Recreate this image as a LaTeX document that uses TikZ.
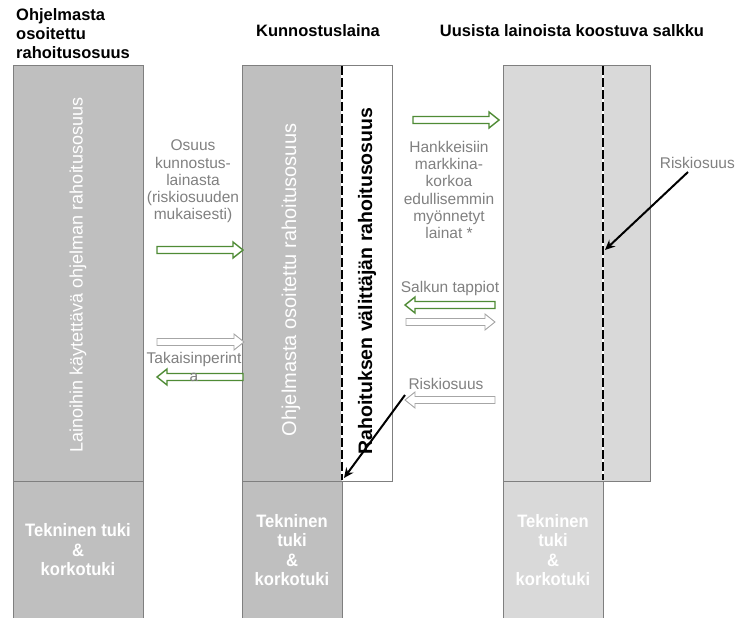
\documentclass[tikz,border=0pt]{standalone}
\usepackage{fontspec}
\setmainfont{Liberation Sans}
\newfontfamily\narrowfont{Liberation Sans}[FakeStretch=0.92]
\usetikzlibrary{arrows.meta}
\definecolor{darkbox}{HTML}{BFBFBF}
\definecolor{lightbox}{HTML}{D9D9D9}
\definecolor{edgegray}{HTML}{7F7F7F}
\definecolor{graytxt}{HTML}{808080}
\definecolor{arrgreen}{HTML}{4F8B35}
\definecolor{arrgray}{HTML}{A6A6A6}
\newcommand\blkR[4]{\draw[#1] (#2,#4-3.5) -- (#3-10,#4-3.5) -- (#3-10,#4-8) -- (#3,#4) -- (#3-10,#4+8) -- (#3-10,#4+3.5) -- (#2,#4+3.5) -- cycle;}
\newcommand\blkL[4]{\draw[#1] (#3,#4-3.5) -- (#2+10,#4-3.5) -- (#2+10,#4-8) -- (#2,#4) -- (#2+10,#4+8) -- (#2+10,#4+3.5) -- (#3,#4+3.5) -- cycle;}
\tikzset{
  hdr/.style={font=\bfseries\fontsize{16.5}{19}\selectfont, inner sep=0pt},
  graylabel/.style={font=\fontsize{15.5}{17.3}\selectfont, text=graytxt, align=center, inner sep=0pt},
  bottomlabel/.style={font=\narrowfont\bfseries\fontsize{18}{19.5}\selectfont, text=white, align=center, inner sep=0pt},
  boxedge/.style={draw=edgegray, line width=0.8pt},
  greenarrow/.style={draw=arrgreen, fill=white, line width=1.4pt},
  grayarrow/.style={draw=arrgray, fill=white, line width=0.9pt},
  blackarrow/.style={draw=black, line width=2pt, -{Stealth[length=10pt,width=9pt]}},
  dashline/.style={draw=black, line width=2.5pt, dash pattern=on 9pt off 3pt},
}
\begin{document}
\begin{tikzpicture}[x=1pt,y=-1pt]
\useasboundingbox (0,0) rectangle (736,618);
\clip (0,0) rectangle (736,618);
% left column
\fill[darkbox] (13,65) rectangle (143,481);
\draw[boxedge] (13,65) rectangle (143,481);
\fill[darkbox] (13,481) rectangle (143,640);
\draw[boxedge] (13,640) -- (13,481) -- (143,481) -- (143,640);
% middle column
\fill[white] (242,65) rectangle (392,481);
\fill[darkbox] (242,65) rectangle (342,481);
\draw[boxedge] (242,65) rectangle (392,481);
\fill[darkbox] (242,481) rectangle (342,640);
\draw[boxedge] (242,640) -- (242,481) -- (342,481) -- (342,640);
\draw[white, line width=2.5pt] (342,66) -- (342,480);
\draw[dashline] (342,66) -- (342,480);
% right column
\fill[lightbox] (503,65) rectangle (650,481);
\draw[boxedge] (503,65) rectangle (650,481);
\fill[lightbox] (503,481) rectangle (603,640);
\draw[boxedge] (503,640) -- (503,481) -- (603,481) -- (603,640);
\draw[white, line width=2.5pt] (603,66) -- (603,480);
\draw[dashline] (603,66) -- (603,480);

% block arrows
\blkR{greenarrow}{157}{243}{250}
\blkR{grayarrow}{157}{244}{342}
\blkL{greenarrow}{157}{243}{377}
\blkR{greenarrow}{413}{499}{120}
\blkL{greenarrow}{405}{495}{305}
\blkR{grayarrow}{406}{495}{322}
\blkL{grayarrow}{405}{495}{400}

% headers
\node[hdr, anchor=base west, align=left] (h1) at (16,59) {Ohjelmasta\\osoitettu\\rahoitusosuus};
\node[hdr, anchor=base] (h2) at (318,37) {Kunnostuslaina};
\node[hdr, anchor=base] (h3) at (572,37) {Uusista lainoista koostuva salkku};

% vertical texts
\node[rotate=90, text=white, font=\fontsize{18}{20}\selectfont, inner sep=0pt] (v1) at (78,275) {Lainoihin käytettävä ohjelman rahoitusosuus};
\node[rotate=90, text=white, font=\fontsize{20}{22}\selectfont, inner sep=0pt] (v2) at (291,280) {Ohjelmasta osoitettu rahoitusosuus};
\node[rotate=90, text=black, font=\bfseries\fontsize{19.5}{22}\selectfont, inner sep=0pt] (v3) at (367,281) {Rahoituksen välittäjän rahoitusosuus};

% bottom texts
\node[bottomlabel] (b1) at (78,550) {Tekninen tuki\\\&\\korkotuki};
\node[bottomlabel] (b2) at (292,550) {Tekninen\\tuki\\\&\\korkotuki};
\node[bottomlabel] (b3) at (553,550) {Tekninen\\tuki\\\&\\korkotuki};

% gray labels
\node[graylabel] (osuus) at (193,181.5) {Osuus\\kunnostus-\\lainasta\\(riskiosuuden\\mukaisesti)};
\node[graylabel] (takaisin) at (194,367) {Takaisinperint\\a};
\node[graylabel] (hank) at (449,190) {Hankkeisiin\\markkina-\\korkoa\\edullisemmin\\myönnetyt\\lainat *};
\node[graylabel] (salkun) at (450,288) {Salkun tappiot};
\node[graylabel] (risk1) at (446,384) {Riskiosuus};
\node[graylabel, anchor=east] (risk2) at (735,163) {Riskiosuus};

% black pointer arrows
\coordinate (r1s) at (405,395);
\coordinate (r1e) at (344,478);
\coordinate (r2s) at (688,172);
\coordinate (r2e) at (605,250);
\draw[blackarrow] (r1s) -- (r1e);
\draw[blackarrow] (r2s) -- (r2e);
\end{tikzpicture}
\end{document}
